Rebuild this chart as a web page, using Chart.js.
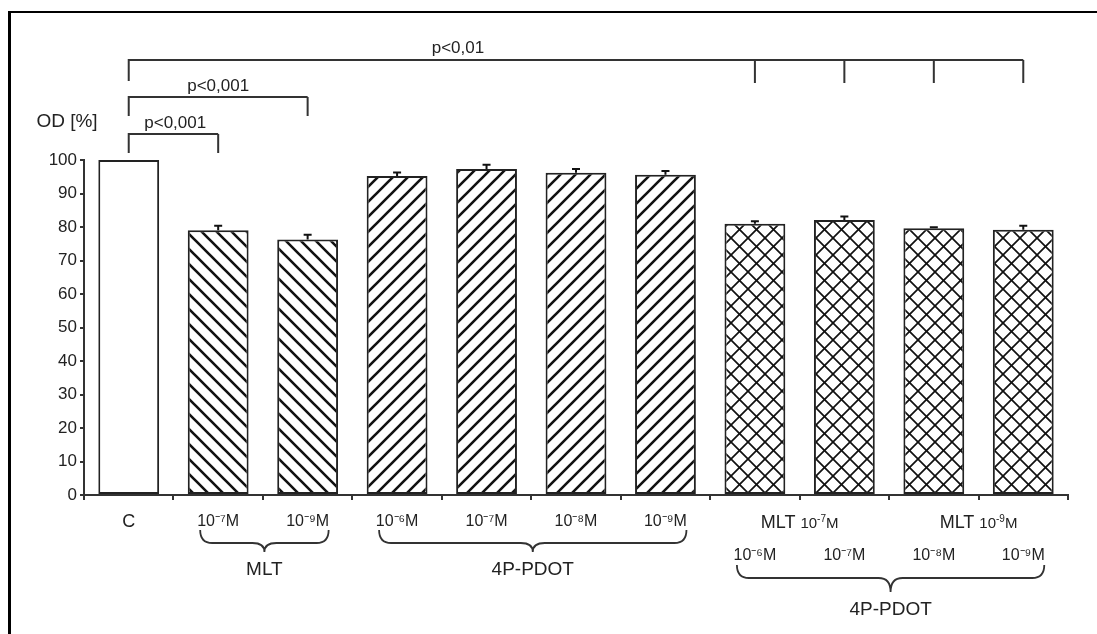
<!DOCTYPE html>
<html>
<head>
<meta charset="utf-8">
<script src="https://cdn.jsdelivr.net/npm/chart.js@4.4.1/dist/chart.umd.min.js"></script>
<style>
  html, body { margin: 0; padding: 0; background: #fff; }
  #wrap { position: relative; width: 1097px; height: 634px; overflow: hidden; }
  #frame { position: absolute; left: 8px; top: 11px; width: 1200px; height: 700px;
           border-left: 3px solid #000; border-top: 2px solid #000; }
  canvas { position: absolute; left: 0; top: 0; }
</style>
</head>
<body>
<div id="wrap">
  <div id="frame"></div>
  <canvas id="odChart" width="1097" height="634"></canvas>
</div>
<script>
// ---- data ----
const tickLabels = ['C', '10⁻⁷M', '10⁻⁹M', '10⁻⁶M', '10⁻⁷M', '10⁻⁸M', '10⁻⁹M',
  ['', '10⁻⁶M'], ['', '10⁻⁷M'], ['', '10⁻⁸M'], ['', '10⁻⁹M']];
const values = [100, 79.0, 76.3, 95.2, 97.3, 96.2, 95.6, 81.0, 82.1, 79.6, 79.2];
const errors = [0, 1.4, 1.4, 1.1, 1.3, 1.1, 1.1, 0.7, 1.0, 0.3, 1.2];
const yTicks = [0, 10, 20, 30, 40, 50, 60, 70, 80, 90, 100];
const fillKind = ['none', 'back', 'back', 'fwd', 'fwd', 'fwd', 'fwd', 'cross', 'cross', 'cross', 'cross'];

// groups under the axis (first index, last index, label)
const groups = [
  { from: 1, to: 2, label: 'MLT' },
  { from: 3, to: 6, label: '4P-PDOT' },
  { from: 7, to: 10, label: '4P-PDOT' }
];
// "MLT 10^-xM" labels over the combined group
const comboLabels = [
  { at: 7.5, exp: '-7' },
  { at: 9.5, exp: '-9' }
];
// significance brackets: from C to the listed bars
const sigBrackets = [
  { label: 'p<0,001', to: [1] },
  { label: 'p<0,001', to: [2] },
  { label: 'p<0,01', to: [7, 8, 9, 10] }
];

const FONT = "'Liberation Sans', Arial, sans-serif";
const INK = '#222';

// ---- hatch patterns ----
function hatch(kind) {
  if (kind === 'none') return '#fff';
  const s = kind === 'cross' ? 17 : 15;
  const c = document.createElement('canvas');
  c.width = c.height = s;
  const g = c.getContext('2d');
  g.fillStyle = '#fff';
  g.fillRect(0, 0, s, s);
  g.strokeStyle = '#111';
  g.lineWidth = kind === 'cross' ? 1.7 : 2.6;
  const fwd = () => {
    g.beginPath();
    g.moveTo(-2, s + 2); g.lineTo(s + 2, -2);
    g.moveTo(-2, 2); g.lineTo(2, -2);
    g.moveTo(s - 2, s + 2); g.lineTo(s + 2, s - 2);
    g.stroke();
  };
  const back = () => {
    g.beginPath();
    g.moveTo(-2, -2); g.lineTo(s + 2, s + 2);
    g.moveTo(s - 2, -2); g.lineTo(s + 2, 2);
    g.moveTo(-2, s - 2); g.lineTo(2, s + 2);
    g.stroke();
  };
  if (kind === 'fwd' || kind === 'cross') fwd();
  if (kind === 'back' || kind === 'cross') back();
  return g.createPattern(c, 'repeat');
}

// ---- plugins ----
const errorBars = {
  id: 'errorBars',
  afterDatasetsDraw(chart) {
    const { ctx, scales: { y } } = chart;
    const meta = chart.getDatasetMeta(0);
    ctx.save();
    ctx.strokeStyle = '#111';
    ctx.lineWidth = 2;
    meta.data.forEach((bar, i) => {
      if (!errors[i]) return;
      const top = y.getPixelForValue(values[i] + errors[i]);
      ctx.beginPath();
      ctx.moveTo(bar.x, bar.y);
      ctx.lineTo(bar.x, top);
      ctx.moveTo(bar.x - 4, top);
      ctx.lineTo(bar.x + 4, top);
      ctx.stroke();
    });
    ctx.restore();
  }
};

function drawBrace(ctx, x1, x2, y0, yf, yt) {
  const xm = (x1 + x2) / 2, r = 12;
  ctx.beginPath();
  ctx.moveTo(x1, y0);
  ctx.quadraticCurveTo(x1, yf, x1 + r, yf);
  ctx.lineTo(xm - r, yf);
  ctx.quadraticCurveTo(xm, yf, xm, yt);
  ctx.quadraticCurveTo(xm, yf, xm + r, yf);
  ctx.lineTo(x2 - r, yf);
  ctx.quadraticCurveTo(x2, yf, x2, y0);
  ctx.stroke();
}

const annotations = {
  id: 'annotations',
  afterDraw(chart) {
    const { ctx, chartArea, scales: { x } } = chart;
    const top = chartArea.top, base = chartArea.bottom;
    ctx.save();
    ctx.fillStyle = INK;
    ctx.strokeStyle = '#333';
    ctx.lineWidth = 2;
    ctx.textAlign = 'center';
    ctx.textBaseline = 'middle';

    // axis title
    ctx.font = '19px ' + FONT;
    ctx.fillText('OD [%]', 67, top - 38);

    // significance brackets
    const levels = [
      { y: top - 26, leg: top - 7, text: top - 37, frac: 0.52 },
      { y: top - 63, leg: top - 44, text: top - 74, frac: 0.5 },
      { y: top - 100, leg: top - 79, text: top - 112, frac: 0.368 }
    ];
    const x0 = x.getPixelForValue(0);
    sigBrackets.forEach((b, k) => {
      const lv = levels[k];
      const xs = b.to.map(i => x.getPixelForValue(i));
      const xEnd = xs[xs.length - 1];
      ctx.beginPath();
      ctx.moveTo(x0, lv.leg);
      ctx.lineTo(x0, lv.y);
      ctx.lineTo(xEnd, lv.y);
      xs.forEach(px => { ctx.moveTo(px, lv.y); ctx.lineTo(px, lv.leg + (k === 2 ? 2 : 0)); });
      ctx.stroke();
      ctx.font = '17px ' + FONT;
      ctx.fillText(b.label, x0 + (xEnd - x0) * lv.frac, lv.text);
    });

    // "MLT 10^-xM" over the combined group
    comboLabels.forEach(c => {
      const cx = x.getPixelForValue(c.at);
      const yy = base + 28;
      ctx.font = '18px ' + FONT;
      const wMlt = ctx.measureText('MLT ').width;
      ctx.font = '15px ' + FONT;
      const w10 = ctx.measureText('10').width;
      ctx.font = '10px ' + FONT;
      const wExp = ctx.measureText(c.exp).width;
      ctx.font = '15px ' + FONT;
      const wM = ctx.measureText('M').width;
      let px = cx - (wMlt + w10 + wExp + wM) / 2;
      ctx.textAlign = 'left';
      ctx.font = '18px ' + FONT; ctx.fillText('MLT ', px, yy); px += wMlt;
      ctx.font = '15px ' + FONT; ctx.fillText('10', px, yy + 1); px += w10;
      ctx.font = '10px ' + FONT; ctx.fillText(c.exp, px, yy - 4); px += wExp;
      ctx.font = '15px ' + FONT; ctx.fillText('M', px, yy + 1);
      ctx.textAlign = 'center';
    });

    // braces and group names
    ctx.lineWidth = 1.8;
    groups.forEach((g, k) => {
      const x1 = x.getPixelForValue(g.from) - 18;
      const x2 = x.getPixelForValue(g.to) + 21;
      const combo = k === 2;
      const y0 = base + (combo ? 70 : 35);
      drawBrace(ctx, x1, x2, y0, y0 + 13, y0 + (combo ? 27 : 22));
      ctx.font = '19px ' + FONT;
      ctx.fillText(g.label, (x1 + x2) / 2, base + (combo ? 115 : 75));
    });
    ctx.restore();
  }
};

// ---- chart ----
const ctx = document.getElementById('odChart');
new Chart(ctx, {
  type: 'bar',
  data: {
    labels: tickLabels,
    datasets: [{
      data: values,
      backgroundColor: fillKind.map(hatch),
      borderColor: '#222',
      borderWidth: 2,
      borderSkipped: false,
      barPercentage: 0.68,
      categoryPercentage: 1
    }]
  },
  options: {
    responsive: false,
    animation: false,
    layout: { padding: { left: 0, top: 160, right: 29, bottom: 0 } },
    plugins: { legend: { display: false }, tooltip: { enabled: false } },
    scales: {
      x: {
        offset: true,
        grid: { offset: true, drawOnChartArea: false, tickLength: 5, color: '#333', lineWidth: 2 },
        border: { display: true, color: '#333', width: 2 },
        ticks: {
          color: INK,
          padding: 5,
          maxRotation: 0,
          autoSkip: false,
          font: (c) => ({ family: FONT, size: c.index === 0 ? 18 : 16, lineHeight: '34px' })
        },
        afterFit(scale) { scale.height = 139; }
      },
      y: {
        min: 0,
        max: 100,
        afterBuildTicks(scale) { scale.ticks = yTicks.map(v => ({ value: v })); },
        grid: { drawOnChartArea: false, tickLength: 4, color: '#333', lineWidth: 2 },
        border: { display: true, color: '#333', width: 2 },
        ticks: { color: INK, padding: 3, font: { family: FONT, size: 17 } },
        afterFit(scale) { scale.width = 84; }
      }
    }
  },
  plugins: [errorBars, annotations]
});
</script>
</body>
</html>
